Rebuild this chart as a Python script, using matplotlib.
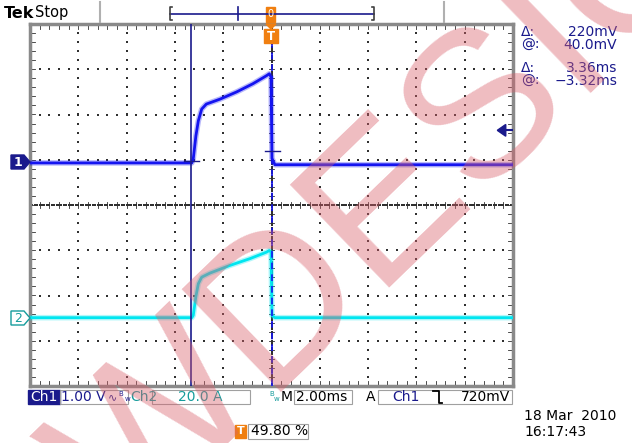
import matplotlib
matplotlib.use('Agg')
import matplotlib.pyplot as plt
import numpy as np
from matplotlib.patches import Rectangle, Polygon

# scope settings
ch1_scale = 1.0      # V/div
ch2_scale = 20.0     # A/div
time_scale = 2.0     # ms/div
ch1_pos = 0.93       # div above centre
ch2_pos = -2.49
trig_level = 0.72    # V on ch1

# Ch1 trace (ms, V)
ch1_t = [-10.0, -3.30, -3.24, -3.13, -3.03, -2.89, -2.70, -2.13, -1.44, -0.77, -0.20, -0.09, -0.02, 0.02, 0.14, 10.0]
ch1_v = [0.0, 0.0, 0.09, 0.60, 0.93, 1.19, 1.30, 1.41, 1.57, 1.75, 1.93, 1.97, 1.90, 0.10, -0.04, -0.04]

# Ch2 trace (ms, A)
ch2_t = [-10.0, -3.30, -3.24, -3.13, -3.03, -2.89, -2.55, -1.72, -0.89, -0.20, -0.09, -0.02, 0.02, 0.14, 10.0]
ch2_i = [0.0, 0.0, 1.0, 9.4, 15.0, 17.9, 19.7, 23.1, 26.1, 29.0, 29.7, 29.0, 1.0, 0.0, 0.0]

# cursors
cur1_t, cur1_v = -3.32, 0.04
cur2_t, cur2_v = 0.04, 0.26

navy = '#1a1a8c'
blue = '#1414f0'
cyan = '#00e6f0'
teal = '#169c9c'
orange = '#f07f10'

fig = plt.figure(figsize=(6.32, 4.43), dpi=100)
W, H = 632.0, 443.0

def fx(x):
    return x / W

def fy(y):
    return 1 - y / H

ax = fig.add_axes([fx(30), fy(386), (513 - 30) / W, (386 - 24) / H])
ax.set_xlim(-5 * time_scale, 5 * time_scale)
ax.set_ylim(-4, 4)
ax.set_xticks([])
ax.set_yticks([])
for s in ax.spines.values():
    s.set_color('#8a8a8a')
    s.set_linewidth(2.5)

# graticule dots
dot = dict(color='#303030', s=1.0, marker='s', linewidths=0, zorder=1)
for k in range(-4, 5):
    if k == 0:
        continue
    ys = np.arange(-4, 4.01, 0.2)
    ax.scatter(np.full(ys.shape, k * time_scale), ys, **dot)
for k in range(-3, 4):
    if k == 0:
        continue
    xs = np.arange(-5, 5.01, 0.2) * time_scale
    ax.scatter(xs, np.full(xs.shape, k), **dot)
# centre lines
xs = np.arange(-5, 5.01, 0.05) * time_scale
ax.scatter(xs, np.zeros(xs.shape), **dot)
ys = np.arange(-4, 4.01, 0.05)
ax.scatter(np.zeros(ys.shape), ys, **dot)
tk = dict(color='#303030', lw=0.6, zorder=1)
for v in np.arange(-5, 5.01, 0.2):
    ax.plot([v * time_scale] * 2, [-0.06, 0.06], **tk)
    ax.plot([v * time_scale] * 2, [-4, -3.9], **tk)
    ax.plot([v * time_scale] * 2, [4, 3.9], **tk)
for v in np.arange(-4, 4.01, 0.2):
    ax.plot([-0.12, 0.12], [v, v], **tk)
    ax.plot([-10, -9.8], [v, v], **tk)
    ax.plot([10, 9.8], [v, v], **tk)

# traces
y1 = ch1_pos + np.array(ch1_v) / ch1_scale
y2 = ch2_pos + np.array(ch2_i) / ch2_scale
ax.plot(ch1_t, y1, color=blue, lw=4.0, alpha=0.3, zorder=3, solid_joinstyle='round')
ax.plot(ch1_t, y1, color=blue, lw=2.0, zorder=4)
ax.plot(ch2_t, y2, color=cyan, lw=4.0, alpha=0.3, zorder=3, solid_joinstyle='round')
ax.plot(ch2_t, y2, color=cyan, lw=2.0, zorder=4)

# cursors
ax.axvline(cur1_t, color=navy, lw=1.2, zorder=5)
ax.axvline(cur2_t, color=blue, lw=1.2, ls=(0, (4, 3)), zorder=5)
for ct, cv in [(cur1_t, cur1_v), (cur2_t, cur2_v)]:
    ax.plot([ct - 0.3, ct + 0.3], [ch1_pos + cv / ch1_scale] * 2, color=navy, lw=1.0, zorder=6)

# trigger level arrow on right edge
ty = ch1_pos + trig_level / ch1_scale
ax.add_patch(Polygon([(9.35, ty), (9.7, ty + 0.13), (9.7, ty - 0.13)], closed=True,
                     facecolor=navy, edgecolor=navy, zorder=6, clip_on=False))
ax.plot([9.6, 10.0], [ty, ty], color=navy, lw=1.5, zorder=6)

# channel markers on left
fig.patches.append(Polygon([(fx(11), fy(155)), (fx(24), fy(155)), (fx(30), fy(162)),
                            (fx(24), fy(169)), (fx(11), fy(169))], closed=True,
                           transform=fig.transFigure, facecolor=navy, edgecolor=navy))
fig.text(fx(18), fy(162), '1', color='white', fontsize=9, fontweight='bold', ha='center', va='center')
fig.patches.append(Polygon([(fx(11), fy(311)), (fx(24), fy(311)), (fx(30), fy(318)),
                            (fx(24), fy(325)), (fx(11), fy(325))], closed=True,
                           transform=fig.transFigure, facecolor='white', edgecolor=teal, lw=1))
fig.text(fx(18), fy(318), '2', color=teal, fontsize=9, ha='center', va='center')

# top bar
fig.text(fx(4), fy(13), 'Tek', fontsize=11.5, fontweight='bold', va='center', color='black')
fig.text(fx(35), fy(13), 'Stop', fontsize=10.5, va='center', color='black')
fig.add_artist(plt.Line2D([fx(100), fx(100)], [fy(2), fy(22)], color='#b0b0b0', lw=1.5))
fig.add_artist(plt.Line2D([fx(444), fx(444)], [fy(2), fy(22)], color='#b0b0b0', lw=1.5))
fig.add_artist(plt.Line2D([fx(170), fx(374)], [fy(14), fy(14)], color=navy, lw=1.2))
fig.add_artist(plt.Line2D([fx(238), fx(238)], [fy(7), fy(20)], color=navy, lw=1.2))
for bx, d in [(170, 1), (374, -1)]:
    fig.add_artist(plt.Line2D([fx(bx + 2 * d), fx(bx), fx(bx), fx(bx + 2 * d)],
                              [fy(7), fy(7), fy(20), fy(20)], color='#404040', lw=1.2))
fig.patches.append(Rectangle((fx(266), fy(22)), 9 / W, 15 / H, transform=fig.transFigure,
                             facecolor=orange, edgecolor=orange))
fig.text(fx(270.5), fy(14), '0', color='white', fontsize=7, ha='center', va='center')

# trigger position T marker
fig.patches.append(Polygon([(fx(266), fy(24)), (fx(276), fy(24)), (fx(271), fy(29))], closed=True,
                           transform=fig.transFigure, facecolor=orange, edgecolor=orange))
fig.patches.append(Rectangle((fx(264), fy(43)), 14 / W, 14 / H, transform=fig.transFigure,
                             facecolor=orange, edgecolor=orange))
fig.text(fx(271), fy(36), 'T', color='white', fontsize=8.5, fontweight='bold', ha='center', va='center')

# cursor readouts
readouts = [('Δ:', '220mV', 32), ('@:', '40.0mV', 45), ('Δ:', '3.36ms', 68), ('@:', '\u22123.32ms', 81)]
for lab, val, yy in readouts:
    fig.text(fx(521), fy(yy), lab, color=navy, fontsize=10, va='center')
    fig.text(fx(617), fy(yy), val, color=navy, fontsize=10, va='center', ha='right')

# bottom status bar
bfont = dict(fontsize=10, va='center')
yb = 397
fig.patches.append(Rectangle((fx(28), fy(404)), 32 / W, 14 / H, transform=fig.transFigure,
                             facecolor=navy, edgecolor=navy))
fig.text(fx(30), fy(yb), 'Ch1', color='white', **bfont)
for x0, x1 in [(60, 128), (152, 250), (294, 352), (378, 512)]:
    fig.patches.append(Rectangle((fx(x0), fy(404)), (x1 - x0) / W, 14 / H, transform=fig.transFigure,
                                 facecolor='none', edgecolor='#a0a0a0', lw=0.8))
fig.text(fx(106), fy(yb), '1.00 V', color=navy, ha='right', **bfont)
fig.text(fx(108), fy(yb), '∿', color=navy, fontsize=8, va='center')
fig.text(fx(118), fy(yb - 3), 'B', color=navy, fontsize=5, va='center')
fig.text(fx(125), fy(yb + 2), 'w', color=navy, fontsize=5, va='center')
fig.text(fx(130), fy(yb), 'Ch2', color=teal, **bfont)
fig.text(fx(200), fy(yb), '20.0 A', color=teal, ha='center', **bfont)
fig.text(fx(269), fy(yb - 3), 'B', color=teal, fontsize=5, va='center')
fig.text(fx(274), fy(yb + 2), 'w', color=teal, fontsize=5, va='center')
fig.text(fx(281), fy(yb), 'M', color='black', **bfont)
fig.text(fx(296), fy(yb), '2.00ms', color='black', **bfont)
fig.text(fx(366), fy(yb), 'A', color='black', **bfont)
fig.text(fx(392), fy(yb), 'Ch1', color=navy, **bfont)
# falling edge slope symbol
fig.add_artist(plt.Line2D([fx(433), fx(439), fx(439), fx(442)],
                          [fy(391), fy(391), fy(403), fy(403)], color='black', lw=1.3))
fig.text(fx(510), fy(yb), '720mV', color='black', ha='right', **bfont)

fig.patches.append(Rectangle((fx(235), fy(438)), 11 / W, 13 / H, transform=fig.transFigure,
                             facecolor=orange, edgecolor=orange))
fig.text(fx(240.5), fy(431), 'T', color='white', fontsize=8, fontweight='bold', ha='center', va='center')
fig.patches.append(Rectangle((fx(248), fy(439)), 60 / W, 15 / H, transform=fig.transFigure,
                             facecolor='none', edgecolor='#a0a0a0', lw=0.8))
fig.text(fx(251), fy(431), '49.80 %', color='black', **bfont)
fig.text(fx(524), fy(416), '18 Mar  2010', color='black', **bfont)
fig.text(fx(524), fy(432), '16:17:43', color='black', **bfont)

# watermark
fig.text(fx(128), fy(540), 'WDESIGN', color='#d9606c', alpha=0.42, fontsize=150,
         rotation=44, rotation_mode='anchor', ha='left', va='baseline',
         family='Liberation Sans', zorder=20)

fig.savefig('out.png', dpi=100, facecolor='white')
